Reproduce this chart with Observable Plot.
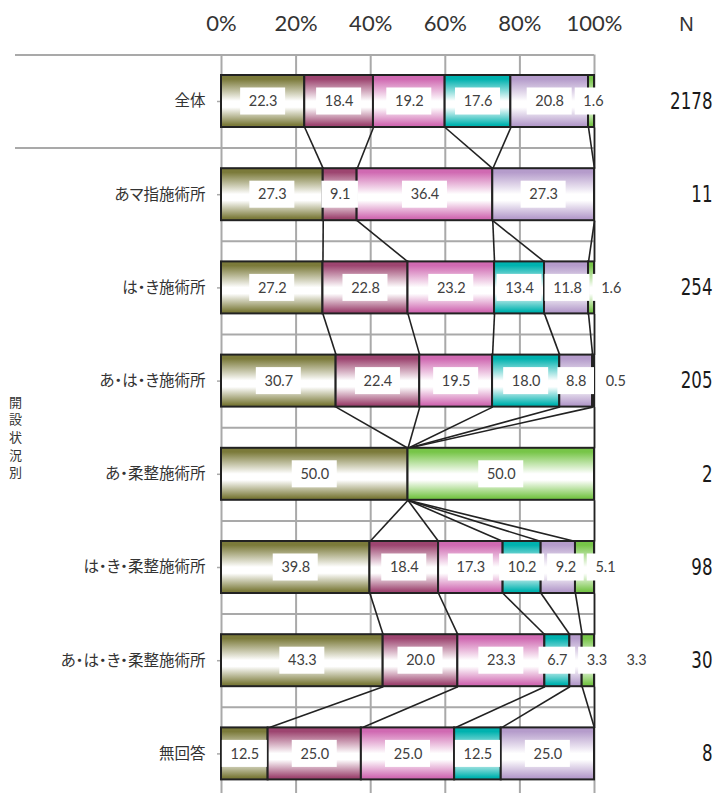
<!DOCTYPE html>
<html>
<head>
<meta charset="utf-8">
<script src="https://cdn.jsdelivr.net/npm/d3@7"></script>
<script src="https://cdn.jsdelivr.net/npm/@observablehq/plot@0.6"></script>
<style>
  html, body { margin: 0; padding: 0; background: #fff; overflow: hidden; }
  #chart { width: 715px; height: 793px; overflow: hidden; }
</style>
</head>
<body>
<div id="chart"></div>
<script>
// Facility categories (rows, top to bottom) and respondent counts
const categories = ["全体", "あマ指施術所", "は・き施術所", "あ・は・き施術所", "あ・柔整施術所", "は・き・柔整施術所", "あ・は・き・柔整施術所", "無回答"];
const nValues = [2178, 11, 254, 205, 2, 98, 30, 8];
const groupTitle = ["開", "設", "状", "況", "別"];

// Percentages for each response series, one value per category
const seriesA = [22.3, 27.3, 27.2, 30.7, 50.0, 39.8, 43.3, 12.5];
const seriesB = [18.4, 9.1, 22.8, 22.4, 0, 18.4, 20.0, 25.0];
const seriesC = [19.2, 36.4, 23.2, 19.5, 0, 17.3, 23.3, 25.0];
const seriesD = [17.6, 0, 13.4, 18.0, 0, 10.2, 6.7, 12.5];
const seriesE = [20.8, 27.3, 11.8, 8.8, 0, 9.2, 3.3, 25.0];
const seriesF = [1.6, 0, 1.6, 0.5, 50.0, 5.1, 3.3, 0];
const series = [seriesA, seriesB, seriesC, seriesD, seriesE, seriesF];
const seriesColors = ["#7b7a3a", "#9d4570", "#d06ab2", "#00b2af", "#b59ccb", "#77c548"];

// Axis ticks
const ticks = [0, 20, 40, 60, 80, 100];
const tickLabels = ["0%", "20%", "40%", "60%", "80%", "100%"];

// Layout
const W = 715, H = 793;
const plotLeft = 221, plotRight = 594, plotTop = 54.4, rowStep = 93.2;
const pxPerPct = (plotRight - plotLeft) / 100;
const barHalf = 26 / rowStep;      // half bar thickness, in row units
const boxHalf = 13.5 / rowStep;    // half label-box height
const valueFont = 14.5;
const nDigitWidth = 10.6;          // condensed digit advance for the N column
const pxToPct = px => (px - plotLeft) / pxPerPct;
const pxToRow = py => (py - plotTop) / rowStep - 0.5;
const textWidth = s => [...s].reduce((w, c) => w + (c === "." ? 0.26 : 0.58) * valueFont, 0);

// Stack each row to 100%, keep segment ends for the connector lines,
// and place value labels left to right so their boxes never overlap.
const segments = [];
const labels = [];
const ends = series.map(() => []);
categories.forEach((cat, i) => {
  const vals = series.map(s => s[i]);
  const total = d3.sum(vals);
  let cum = 0, prevRight = -Infinity;
  vals.forEach((v, k) => {
    const a = cum / total * 100;
    cum += v;
    const b = cum / total * 100;
    ends[k][i] = b;
    if (v > 0) {
      segments.push({i, k, x1: a, x2: b});
      const text = v.toFixed(1);
      const w = textWidth(text) + 16;
      let cx = plotLeft + (a + b) / 2 * pxPerPct;
      cx = Math.max(cx, prevRight + 3 + w / 2);
      prevRight = cx + w / 2;
      labels.push({i, text, x: pxToPct(cx), x1: pxToPct(cx - w / 2), x2: pxToPct(cx + w / 2)});
    }
  });
});

const links = [];
for (let k = 0; k < series.length; k++) {
  for (let i = 0; i < categories.length - 1; i++) {
    links.push({x1: ends[k][i], x2: ends[k][i + 1], y1: i + barHalf, y2: i + 1 - barHalf});
  }
}

const boundaries = d3.range(-0.5, categories.length, 1);
const rows = categories.map((c, i) => i);

const plot = Plot.plot({
  width: W,
  height: H,
  marginLeft: plotLeft,
  marginRight: W - plotRight,
  marginTop: plotTop,
  marginBottom: 0,
  x: {domain: [0, 100], axis: null},
  y: {domain: [-0.5, categories.length - 0.5], range: [plotTop, plotTop + categories.length * rowStep], axis: null},
  style: {background: "#fff", color: "#404040", fontFamily: "Lato, sans-serif"},
  marks: [
    // grid
    Plot.ruleX(ticks, {x: d => d, y1: -0.5, y2: categories.length, stroke: "#a9a9a9", strokeWidth: 2}),
    Plot.ruleY(boundaries, {y: d => d, x1: 0, x2: 100, stroke: "#a9a9a9", strokeWidth: 2}),
    Plot.ruleY(boundaries.slice(0, 2), {y: d => d, x1: pxToPct(15), x2: 0, stroke: "#a9a9a9", strokeWidth: 2}),
    Plot.ruleY(rows, {y: d => d, x1: pxToPct(217), x2: 0, stroke: "#a9a9a9", strokeWidth: 1.5}),
    // connector lines between segment ends of adjacent bars
    Plot.link(links, {x1: "x1", x2: "x2", y1: "y1", y2: "y2", stroke: "#222", strokeWidth: 1.6}),
    // stacked bars
    ...series.map((s, k) => Plot.rect(segments.filter(d => d.k === k), {
      x1: "x1", x2: "x2", y1: d => d.i - barHalf, y2: d => d.i + barHalf,
      fill: `url(#grad${k})`, stroke: "#222", strokeWidth: 2
    })),
    // value labels
    Plot.rect(labels, {x1: "x1", x2: "x2", y1: d => d.i - boxHalf, y2: d => d.i + boxHalf, fill: "#fff"}),
    Plot.text(labels, {x: "x", y: "i", text: "text", fontSize: valueFont, fill: "#404040"}),
    // category names
    Plot.text(categories, {x: 0, y: (d, i) => i, text: d => d, dx: -16, textAnchor: "end",
      fontSize: 15.5, fontFamily: "'Noto Sans CJK JP', sans-serif", fill: "#333"}),
    // N column
    Plot.text(nValues, {x: 100, y: (d, i) => i, text: d => String(d), dx: 118, textAnchor: "end",
      fontSize: 23, fill: "#1a1a1a", ariaDescription: "n-values",
      fontFamily: "'Liberation Sans Narrow', 'DejaVu Sans Condensed', 'DejaVu Sans', sans-serif"}),
    Plot.text(["N"], {frameAnchor: "top-right", textAnchor: "middle", dx: 686 - plotRight, dy: -38,
      fontSize: 20, fill: "#333", fontFamily: "'Liberation Sans', Arial, sans-serif"}),
    // percentage axis labels
    Plot.text(ticks, {x: d => d, frameAnchor: "top", text: (d, i) => tickLabels[i], dy: -40,
      fontSize: 22, fill: "#333"}),
    // group label, one character per line
    Plot.text(groupTitle, {x: pxToPct(15), y: (d, i) => pxToRow(402 + i * 17.7), text: d => d,
      fontSize: 13, fontFamily: "'Noto Sans CJK JP', sans-serif", fill: "#333"})
  ]
});

// Vertical gradients: series colour at the edges, white band just below the middle
const defs = d3.select(plot).insert("defs", ":first-child");
seriesColors.forEach((c, k) => {
  const g = defs.append("linearGradient").attr("id", `grad${k}`)
    .attr("x1", 0).attr("y1", 0).attr("x2", 0).attr("y2", 1);
  [[0, c], [0.08, c], [0.5, "#fff"], [0.62, "#fff"], [0.96, c], [1, c]].forEach(([o, col]) =>
    g.append("stop").attr("offset", o).attr("stop-color", col));
});

// Proportional kana spacing; condensed figures in the N column
const svg = d3.select(plot);
svg.selectAll("text").style("font-feature-settings", "'palt'");
svg.selectAll("g[aria-description='n-values'] text")
  .style("font-stretch", "condensed")
  .attr("textLength", function() { return this.textContent.length * nDigitWidth; })
  .attr("lengthAdjust", "spacingAndGlyphs");

document.getElementById("chart").appendChild(plot);
</script>
</body>
</html>
